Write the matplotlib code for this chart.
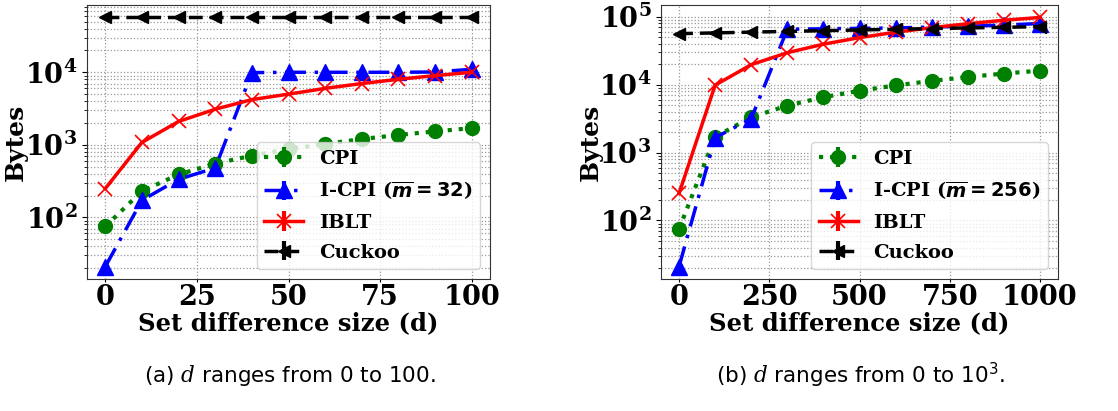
import matplotlib
matplotlib.use("Agg")
import matplotlib.pyplot as plt
from matplotlib.ticker import FixedLocator
import numpy as np

# ---- data ----
d_small = [0, 10, 20, 30, 40, 50, 60, 70, 80, 90, 100]
cpi_small = [75, 230, 390, 550, 710, 870, 1030, 1200, 1370, 1530, 1700]
icpi_small = [21, 172, 335, 480, 9900, 10000, 10000, 10000, 10000, 10100, 11000]
iblt_small = [250, 1080, 2100, 3100, 4200, 5000, 6000, 7000, 8000, 9000, 10000]
cuckoo_small = [57000, 57000, 57000, 57000, 57000, 57000, 57000, 57000, 57000, 57000, 57000]

d_large = [0, 100, 200, 300, 400, 500, 600, 700, 800, 900, 1000]
cpi_large = [75, 1700, 3300, 4900, 6500, 8100, 9700, 11300, 12900, 14500, 16000]
icpi_large = [21, 1650, 3150, 65000, 66000, 67000, 68000, 70000, 72000, 75000, 79000]
iblt_large = [250, 9800, 19600, 29400, 39200, 49000, 58800, 68600, 78400, 88200, 97000]
cuckoo_large = [56000, 57500, 59000, 60500, 62000, 63500, 65000, 66500, 68000, 69500, 71000]

xticks_small = [0, 25, 50, 75, 100]
xticks_large = [0, 250, 500, 750, 1000]
labels_small = ["CPI", r"I-CPI ($\overline{m}=32$)", "IBLT", "Cuckoo"]
labels_large = ["CPI", r"I-CPI ($\overline{m}=256$)", "IBLT", "Cuckoo"]
captions = [r"(a) $\mathsf{d}$ ranges from 0 to 100.",
            r"(b) $\mathsf{d}$ ranges from 0 to $\mathtt{10}^{\mathtt{3}}$."]

plt.rcParams['mathtext.fontset'] = 'custom'
plt.rcParams['mathtext.rm'] = 'DejaVu Sans:bold'
plt.rcParams['mathtext.it'] = 'DejaVu Sans:italic:bold'
plt.rcParams['mathtext.bf'] = 'DejaVu Sans:bold'
plt.rcParams['mathtext.sf'] = 'DejaVu Serif:italic'
plt.rcParams['mathtext.tt'] = 'DejaVu Sans'

fig = plt.figure(figsize=(11.18, 4.11), dpi=100)
ax1 = fig.add_axes([87/1118, 1 - 279/411, 403/1118, 274/411])
ax2 = fig.add_axes([661/1118, 1 - 279/411, 397/1118, 274/411])

styles = [
    dict(color='green', linestyle=':', marker='o', markersize=10, linewidth=3),
    dict(color='blue', linestyle=(0, (6, 2.5, 1, 2.5)), marker='^', markersize=11, linewidth=2.5),
    dict(color='red', linestyle='-', marker='x', markersize=10, linewidth=2.5, markeredgewidth=1.2),
    dict(color='black', linestyle=(0, (4, 2)), marker='<', markersize=9, linewidth=2.5),
]

def draw(ax, x, series, labels, xticks):
    for ys, lab, st in zip(series, labels, styles):
        ax.errorbar(x, ys, yerr=np.zeros(len(ys)), label=lab, elinewidth=3, capsize=0, **st)
    ax.set_yscale('log')
    ax.xaxis.set_major_locator(FixedLocator(xticks))
    ax.grid(True, which='major', linestyle=':', color='#999999', linewidth=0.9)
    ax.grid(True, which='minor', axis='y', linestyle=':', color='#999999', linewidth=0.9)
    ax.tick_params(axis='both', labelsize=19.5)
    ax.tick_params(axis='x', length=2.5, pad=1)
    ax.set_xlabel("Set difference size (d)", fontfamily='DejaVu Serif', fontweight='bold', fontsize=17.5)
    ax.set_ylabel("Bytes", fontfamily='DejaVu Serif', fontweight='bold', fontsize=18)
    ax.xaxis.set_label_coords(0.5, -0.118)
    ax.yaxis.set_label_coords(-0.146, 0.5)
    for sp in ax.spines.values():
        sp.set_color('#333333')
    ax.legend(loc='lower right', prop=dict(family='DejaVu Serif', weight='bold', size=14),
              handlelength=2.0, handletextpad=0.8, borderaxespad=0.5, labelspacing=0.6)
    fig.canvas.draw()
    for lab in ax.get_xticklabels() + ax.get_yticklabels():
        lab.set_fontfamily('DejaVu Serif')
        lab.set_fontweight('bold')
    return ax

draw(ax1, d_small, [cpi_small, icpi_small, iblt_small, cuckoo_small], labels_small, xticks_small)
draw(ax2, d_large, [cpi_large, icpi_large, iblt_large, cuckoo_large], labels_large, xticks_large)

fig.text(290/1118, 1 - 375/411, captions[0], ha='center', va='center', fontsize=15.5, fontfamily='DejaVu Sans')
fig.text(860/1118, 1 - 375/411, captions[1], ha='center', va='center', fontsize=15.5, fontfamily='DejaVu Sans')

fig.savefig("out.png", dpi=100)
